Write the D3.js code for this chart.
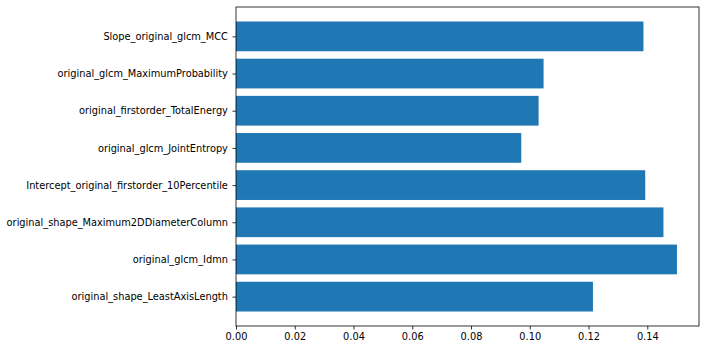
<!DOCTYPE html>
<html><head><meta charset="utf-8">
<script src="https://cdn.jsdelivr.net/npm/d3@7"></script>
<style>body{margin:0;background:#fff}svg{display:block}text{font-family:"DejaVu Sans",sans-serif}</style>
</head><body><svg id="c" width="705" height="349"></svg>
<script>
const categories = ["original_shape_LeastAxisLength","original_glcm_Idmn","original_shape_Maximum2DDiameterColumn","Intercept_original_firstorder_10Percentile","original_glcm_JointEntropy","original_firstorder_TotalEnergy","original_glcm_MaximumProbability","Slope_original_glcm_MCC"];
const values = [0.1215,0.1501,0.1455,0.1393,0.0971,0.1030,0.1047,0.1387];
const xTicks = [0,0.02,0.04,0.06,0.08,0.10,0.12,0.14];

const svg = d3.select("#c");
const L=236, R=699, T=7, B=326;
const xmax = d3.max(values)*1.05;
const x = d3.scaleLinear().domain([0,xmax]).range([L,R]);
const n = categories.length;
const pad = 0.05*(n-1+0.8);
const y = d3.scaleLinear().domain([-0.4-pad, n-1+0.4+pad]).range([B,T]);

svg.append("g").selectAll("rect").data(values).join("rect")
  .attr("x", x(0))
  .attr("y", (d,i)=>y(i+0.4))
  .attr("width", d=>x(d)-x(0))
  .attr("height", (d,i)=>y(i-0.4)-y(i+0.4))
  .attr("fill","#1f77b4");

const xa = svg.append("g").attr("transform",`translate(0,${B})`)
  .call(d3.axisBottom(x).tickValues(xTicks).tickFormat(d3.format(".2f")).tickSizeOuter(0).tickSize(3.5).tickPadding(3.5));
const ya = svg.append("g").attr("transform",`translate(${L},0)`)
  .call(d3.axisLeft(y).tickValues(d3.range(n)).tickFormat(i=>categories[i]).tickSizeOuter(0).tickSize(3.5).tickPadding(4.6));
[xa,ya].forEach(g=>{
  g.select(".domain").remove();
  g.selectAll("line").attr("stroke","#000").attr("stroke-width",0.8);
  g.selectAll("text").attr("font-size","9.8px").attr("fill","#000").attr("font-family","DejaVu Sans");
});
svg.append("rect").attr("x",L).attr("y",T).attr("width",R-L).attr("height",B-T)
  .attr("fill","none").attr("stroke","#000").attr("stroke-width",0.8);
</script></body></html>
